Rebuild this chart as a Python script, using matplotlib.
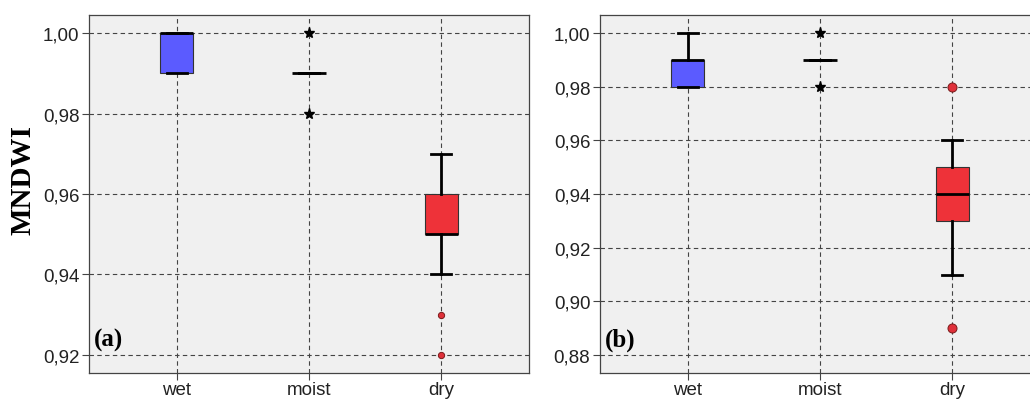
import matplotlib
matplotlib.use("Agg")
import matplotlib.pyplot as plt

categories = ["wet", "moist", "dry"]

# Panel (a) statistics: [whislo, q1, med, q3, whishi]
a_wet = [0.99, 0.99, 1.00, 1.00, 1.00]
a_moist = [0.99, 0.99, 0.99, 0.99, 0.99]
a_dry = [0.94, 0.95, 0.95, 0.96, 0.97]
a_fliers = [[], [1.00, 0.98], [0.93, 0.92]]

# Panel (b)
b_wet = [0.98, 0.98, 0.99, 0.99, 1.00]
b_moist = [0.99, 0.99, 0.99, 0.99, 0.99]
b_dry = [0.91, 0.93, 0.94, 0.95, 0.96]
b_fliers = [[], [1.00, 0.98], [0.98, 0.89]]

a_ticks = [0.92, 0.94, 0.96, 0.98, 1.00]
b_ticks = [0.88, 0.90, 0.92, 0.94, 0.96, 0.98, 1.00]
a_ticklabels = ["0,92", "0,94", "0,96", "0,98", "1,00"]
b_ticklabels = ["0,88", "0,90", "0,92", "0,94", "0,96", "0,98", "1,00"]

box_colors = ["#5b5bff", "#f4f4f4", "#ee3239"]
flier_markers = ["o", "*", "o"]

W, H = 1030, 402
fig = plt.figure(figsize=(W / 100, H / 100), dpi=100)
fig.patch.set_facecolor("white")

ax_a = fig.add_axes([89 / W, (H - 374) / H, 440 / W, 358 / H])
ax_b = fig.add_axes([600 / W, (H - 374) / H, 440 / W, 358 / H])


def draw_panel(ax, stats_list, fliers_list, ylim, ticks, ticklabels, label, flier_ms):
    ax.set_facecolor("#f0f0f0")
    for i, (s, fl) in enumerate(zip(stats_list, fliers_list)):
        st = dict(whislo=s[0], q1=s[1], med=s[2], q3=s[3], whishi=s[4], fliers=fl)
        if flier_markers[i] == "*":
            fp = dict(marker="*", markerfacecolor="black", markeredgecolor="black",
                      markersize=8, linestyle="none")
        else:
            fp = dict(marker="o", markerfacecolor="#e0303a", markeredgecolor="#7a1a1a",
                      markeredgewidth=0.7, markersize=flier_ms, linestyle="none")
        bp = ax.bxp([st], positions=[i + 1], widths=0.25, patch_artist=True,
                    showfliers=True, flierprops=fp,
                    boxprops=dict(facecolor=box_colors[i], edgecolor="#333333", linewidth=0.8),
                    medianprops=dict(color="black", linewidth=2.0),
                    whiskerprops=dict(color="black", linewidth=2.0),
                    capprops=dict(color="black", linewidth=2.0),
                    capwidths=0.15, zorder=3)
        if i == 1:
            for b in bp["boxes"]:
                b.set_visible(False)
    ax.set_xlim(0.335, 3.665)
    ax.set_ylim(*ylim)
    ax.set_xticks([1, 2, 3])
    ax.set_xticklabels(categories, fontsize=13.5, family="Liberation Sans", color="#222222")
    ax.set_yticks(ticks)
    ax.set_yticklabels(ticklabels, fontsize=13.5, family="Liberation Sans", color="#222222")
    ax.tick_params(axis="both", direction="out", length=5, width=0.8, color="#444444")
    ax.tick_params(axis="x", pad=1)
    ax.tick_params(axis="y", pad=2)
    ax.grid(True, color="#444444", linestyle=(0, (4, 3)), linewidth=0.8, zorder=0)
    ax.set_axisbelow(True)
    for sp in ax.spines.values():
        sp.set_color("#444444")
        sp.set_linewidth(0.9)
    ax.text(0.01, 0.095, label, transform=ax.transAxes, fontsize=18, fontweight="bold",
            family="Liberation Serif", color="black", va="center", ha="left")


draw_panel(ax_a, [a_wet, a_moist, a_dry], a_fliers, (0.9155, 1.0045),
           a_ticks, a_ticklabels, "(a)", 4.5)
draw_panel(ax_b, [b_wet, b_moist, b_dry], b_fliers, (0.8733, 1.0067),
           b_ticks, b_ticklabels, "(b)", 6.5)

fig.text(23 / W, 1 - 180 / H, "MNDWI", rotation=90, fontsize=21, fontweight="bold",
         family="Liberation Serif", ha="center", va="center", color="black")

fig.savefig("out.png", dpi=100)
